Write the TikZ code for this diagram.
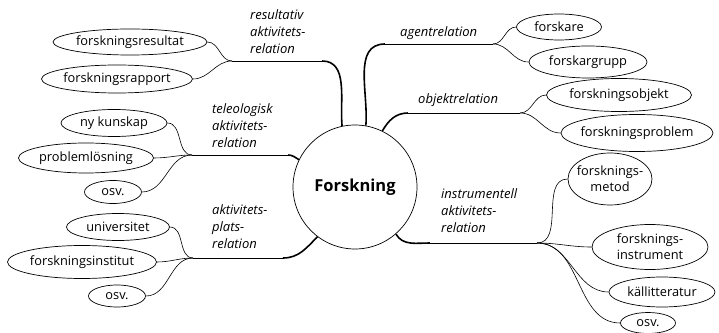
\documentclass[tikz,border=0pt]{standalone}
\usepackage{fontspec}
\setmainfont{Open Sans}
\usetikzlibrary{shapes.geometric}

\begin{document}
\begin{tikzpicture}[x=1pt, y=1pt,
    hub/.style={draw, circle, line width=0.7pt, minimum size=124pt, inner sep=0pt,
      font=\fontsize{16.5}{20}\selectfont\bfseries},
    leaf/.style={draw, ellipse, line width=0.7pt, inner xsep=-14pt, inner ysep=-4pt,
      align=center, font=\fontsize{12.8}{16}\selectfont},
    relation/.style={font=\fontsize{13}{17}\selectfont\itshape, align=left, inner sep=0pt},
    branch/.style={line width=1.6pt},
    stem/.style={line width=0.8pt},
    twig/.style={line width=0.6pt}]

  \useasboundingbox (0,0) rectangle (719,332);

  % ===== Centre =====
  \node[hub] (fo) at (355,145) {Forskning};

  % ===== Left side: leaves =====
  \node[leaf, minimum width=154pt, minimum height=26pt] (res1) at (130,290) {forskningsresultat};
  \node[leaf, minimum width=151pt, minimum height=28pt] (res2) at (117,253) {forskningsrapport};
  \node[leaf, minimum width=106pt, minimum height=27pt] (tel1) at (114,209) {ny kunskap};
  \node[leaf, minimum width=135pt, minimum height=30pt] (tel2) at (86,174) {problemlösning};
  \node[leaf, minimum width=57pt, minimum height=23pt] (tel3) at (113,140) {osv.};
  \node[leaf, minimum width=103pt, minimum height=27pt] (pla1) at (118,105) {universitet};
  \node[leaf, minimum width=149pt, minimum height=33pt] (pla2) at (82,70) {forskningsinstitut};
  \node[leaf, minimum width=57pt, minimum height=22pt] (pla3) at (117,36) {osv.};

  % ===== Right side: leaves =====
  \node[leaf, minimum width=85pt, minimum height=26pt] (age1) at (559,305) {forskare};
  \node[leaf, minimum width=118pt, minimum height=32pt] (age2) at (588,270) {forskargrupp};
  \node[leaf, minimum width=145pt, minimum height=33pt] (obj1) at (619,237) {forskningsobjekt};
  \node[leaf, minimum width=152pt, minimum height=37pt] (obj2) at (637,199) {forskningsproblem};
  \node[leaf, minimum width=84pt, minimum height=52pt] (ins1) at (610,153) {forsknings-\\metod};
  \node[leaf, minimum width=116pt, minimum height=45pt] (ins2) at (650,85) {forsknings-\\instrument};
  \node[leaf, minimum width=106pt, minimum height=30pt] (ins3) at (662,40) {källitteratur};
  \node[leaf, minimum width=55pt, minimum height=21pt] (ins4) at (648,9) {osv.};

  % ===== Branch points =====
  \coordinate (r1) at (322,271);  \coordinate (rfork) at (232,271);
  \coordinate (t1) at (288,177);  \coordinate (tfork) at (192,177);
  \coordinate (p1) at (283,74);   \coordinate (pfork) at (193,74);
  \coordinate (a1) at (385,288);  \coordinate (afork) at (493,288);
  \coordinate (o1) at (408,219);  \coordinate (ofork) at (520,219);
  \coordinate (i1) at (430,89);   \coordinate (ifork) at (537,89);

  % ===== Main branches =====
  \draw[branch] (fo.102) to[out=95, in=0] (r1);
  \draw[stem] (r1) -- (rfork);
  \draw[branch] (fo.154) to[out=150, in=0] (t1);
  \draw[stem] (t1) -- (tfork);
  \draw[branch] (fo.233) to[out=225, in=0] (p1);
  \draw[stem] (p1) -- (pfork);
  \draw[branch] (fo.80) to[out=85, in=180] (a1);
  \draw[stem] (a1) -- (afork);
  \draw[branch] (fo.64) to[out=60, in=180] (o1);
  \draw[stem] (o1) -- (ofork);
  \draw[branch] (fo.311) to[out=-60, in=180] (i1);
  \draw[stem] (i1) -- (ifork);

  % ===== Twigs to the leaves =====
  \foreach \n in {res1,res2}
    \draw[twig] (\n.east) to[out=0, in=180] (rfork);
  \foreach \n in {tel1,tel2,tel3}
    \draw[twig] (\n.east) to[out=0, in=180] (tfork);
  \foreach \n in {pla1,pla2,pla3}
    \draw[twig] (\n.east) to[out=0, in=180] (pfork);
  \foreach \n in {age1,age2}
    \draw[twig] (afork) to[out=0, in=180] (\n.west);
  \foreach \n in {obj1,obj2}
    \draw[twig] (ofork) to[out=0, in=180] (\n.west);
  \foreach \n in {ins1,ins2,ins3,ins4}
    \draw[twig] (ifork) to[out=0, in=180] (\n.west);

  % ===== Relation labels =====
  \node[relation, anchor=north west] (lres) at (250,323) {resultativ\\aktivitets-\\relation};
  \node[relation, anchor=north west] (ltel) at (212,229) {teleologisk\\aktivitets-\\relation};
  \node[relation, anchor=north west] (lpla) at (212,128) {aktivitets-\\plats-\\relation};
  \node[relation, anchor=west] (lage) at (400,299) {agentrelation};
  \node[relation, anchor=west] (lobj) at (418,232) {objektrelation};
  \node[relation, anchor=north west] (lins) at (441,144) {instrumentell\\aktivitets-\\relation};

\end{tikzpicture}
\end{document}
